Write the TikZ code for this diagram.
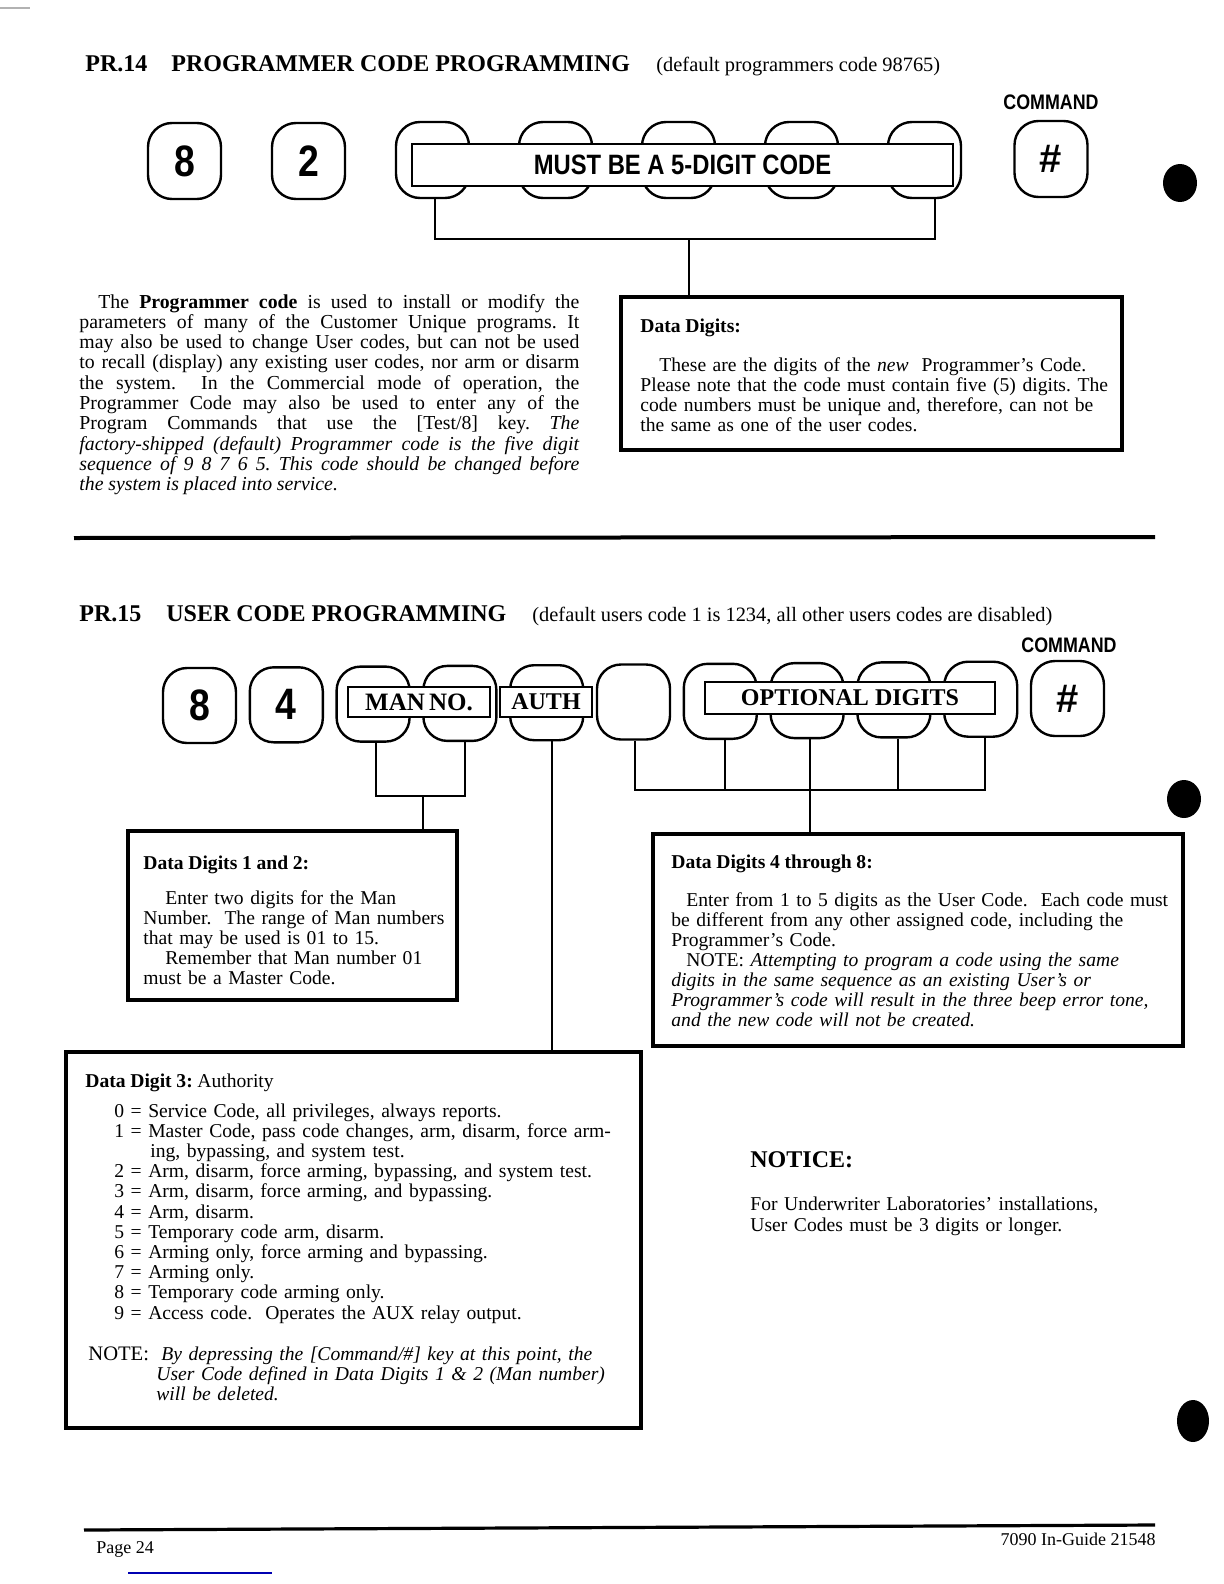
\documentclass[tikz,border=0pt]{standalone}
\usepackage{fontspec}
\setmainfont{Liberation Serif}
\newfontfamily\hv{Liberation Sans}
\newfontfamily\hvc[FakeStretch=0.85]{Liberation Sans}
\usetikzlibrary{calc}
\newcommand{\bodyfont}[2]{\fontsize{#1}{#2}\selectfont\frenchspacing\spaceskip=0.24em plus 0.6em minus 0.06em\relax}
\newcommand{\justifysetup}{\rightskip=0pt\relax\leftskip=0pt\relax\parfillskip=0pt plus 1fil\relax\spaceskip=0.24em plus 0.6em minus 0.06em\relax\tolerance=10000\relax\hyphenpenalty=10000\relax}
\begin{document}
\begin{tikzpicture}[x=0.5pt,y=-0.5pt,
  key/.style={draw, line width=1.2pt, rounded corners=12pt, minimum width=36.5pt, minimum height=38pt, inner sep=0pt, fill=white},
  keyb/.style={key, minimum height=37.5pt},
  keynum/.style={font=\hvc\bfseries\fontsize{22}{22}\selectfont},
  keyhash/.style={font=\hv\bfseries\fontsize{20}{20}\selectfont},
  lbl/.style={draw, line width=1.2pt, fill=white, inner sep=0pt},
  databox/.style={draw, line width=1.9pt, inner sep=0pt},
  conn/.style={line width=1pt},
  ttl/.style={inner sep=0pt, anchor=base west, font=\fontsize{12}{12}\selectfont\bfseries},
  sub/.style={inner sep=0pt, anchor=base west, font=\fontsize{10.2}{10.2}\selectfont},
  cmd/.style={inner sep=0pt, anchor=base, font=\hvc\bfseries\fontsize{10.5}{10.5}\selectfont},
  txtp/.style={inner sep=0pt, anchor=base west, font=\bodyfont{9.8}{10}},
  txtq/.style={inner sep=0pt, anchor=base west, font=\bodyfont{9.9}{10.15}},
  txt3/.style={inner sep=0pt, anchor=base west, font=\bodyfont{9.8}{10.1}},
  foot/.style={inner sep=0pt, anchor=base west, font=\fontsize{9}{9}\selectfont}
]
\fill[white] (0,0) rectangle (1224,1584);
\useasboundingbox (0,0) rectangle (1224,1584);

% scan marks
\draw[gray!60, line width=0.6pt] (0,8) -- (30,8);
\draw[blue!70!black, line width=1pt] (128,1573) -- (272,1573);
\fill (1180,183) ellipse [x radius=8.5pt, y radius=9.5pt];
\fill (1184,799) ellipse [x radius=8.5pt, y radius=9.5pt];
\fill (1193,1421) ellipse [x radius=8pt, y radius=10.5pt];

% ---------------- PR.14 ----------------
\node[ttl] (t14a) at (85,72) {PR.14};
\node[ttl] (t14b) at (171,72) {PROGRAMMER CODE PROGRAMMING};
\node[sub] (t14c) at (656,72) {(default programmers code 98765)};
\node[cmd] (c1) at (1051,110) {COMMAND};

\node[key, keynum] (a8) at (184.5,161) {8};
\node[key, keynum] (a2) at (308.5,161) {2};
\node[key] (d1) at (432.5,160) {};
\node[key] (d2) at (555.5,160) {};
\node[key] (d3) at (678.5,160) {};
\node[key] (d4) at (801.5,160) {};
\node[key] (d5) at (924.5,160) {};
\node[key, keyhash] (aH) at (1051,159) {\#};
\node[lbl, minimum width=270.5pt, minimum height=21pt, font=\hvc\bfseries\fontsize{14}{14}\selectfont] (must) at (682.5,165) {MUST BE A 5-DIGIT CODE};

\node[databox, minimum width=250.5pt, minimum height=76.5pt] (dd) at (871.5,373.5) {};
\coordinate (j1) at (689,239);
\coordinate (d1b) at ($(d1.south)+(2.5,0)$);
\coordinate (d5b) at ($(d5.south)+(10.5,0)$);
\draw[conn] (d1b) |- (d5b |- j1) -- (d5b);
\draw[conn] (j1) -- (j1 |- dd.north);

\node[txtp] (ddh) at (640,332) {\textbf{Data Digits:}};
\node[txtp, text width=262pt] (ddt) at (640,371) {\hspace*{9.5pt}These are the digits of the \textit{new}\ \ Programmer's Code.\\
Please note that the code must contain five (5) digits. The\\
code numbers must be unique and, therefore, can not be\\
the same as one of the user codes.};

\node[txtq, text width=250pt] (para) at (79,308) {\justifysetup\hspace*{9.5pt}The \textbf{Programmer code} is used to install or modify the\linebreak
parameters of many of the Customer Unique programs. It\linebreak
may also be used to change User codes, but can not be used\linebreak
to recall (display) any existing user codes, nor arm or disarm\linebreak
the system.\ \ In the Commercial mode of operation, the\linebreak
Programmer Code may also be used to enter any of the\linebreak
Program Commands that use the [Test/8] key. \textit{The}\linebreak
\textit{factory-shipped (default) Programmer code is the five digit}\linebreak
\textit{sequence of 9 8 7 6 5. This code should be changed before}\linebreak
\textit{the system is placed into service.}\par};

\draw[line width=2pt] (74,538) -- (1155,537);

% ---------------- PR.15 ----------------
\node[ttl] (t15a) at (79,621) {PR.15};
\node[ttl] (t15b) at (166,621) {USER CODE PROGRAMMING};
\node[sub] (t15c) at (532,621) {(default users code 1 is 1234, all other users codes are disabled)};
\node[cmd] (c2) at (1069,652) {COMMAND};

\node[keyb, keynum] (b8) at (199.5,705.5) {8};
\node[keyb, keynum] (b4) at (286.3,704.8) {4};
\node[keyb] (m1) at (373.1,704.1) {};
\node[keyb] (m2) at (459.9,703.4) {};
\node[keyb] (au) at (546.7,702.7) {};
\node[keyb] (bk) at (633.5,702.0) {};
\node[keyb] (o1) at (720.3,701.3) {};
\node[keyb] (o2) at (807.1,700.6) {};
\node[keyb] (o3) at (893.9,699.9) {};
\node[keyb] (o4) at (980.7,699.2) {};
\node[keyb, keyhash] (bH) at (1067.5,698.5) {\#};

\node[lbl, minimum width=71pt, minimum height=15pt, font=\fontsize{12.5}{12.5}\selectfont\bfseries] (man) at (419,702) {MAN\,NO.};
\node[lbl, minimum width=46pt, minimum height=15pt, font=\fontsize{12}{12}\selectfont\bfseries] (auth) at (546,702) {AUTH};
\node[lbl, minimum width=145pt, minimum height=16pt, font=\fontsize{12}{12}\selectfont\bfseries] (opt) at (850,698) {OPTIONAL DIGITS};

\node[databox, minimum width=164.5pt, minimum height=84.5pt] (dd12) at (292.5,915.5) {};
\node[databox, minimum width=265pt, minimum height=106pt] (dd48) at (918,940) {};
\node[databox, minimum width=287.5pt, minimum height=188pt] (dd3) at (353.5,1240) {};

% connectors
\coordinate (j2) at (423,796);
\coordinate (m1b) at ($(m1.south)+(3,0)$);
\coordinate (m2b) at ($(m2.south)+(5,0)$);
\draw[conn] (m1b) |- (m2b |- j2) -- (m2b);
\draw[conn] (j2) -- (j2 |- dd12.north);

\coordinate (aub) at ($(au.south)+(5,0)$);
\draw[conn] (aub) -- (aub |- dd3.north);

\coordinate (j3) at (810,790);
\coordinate (bkb) at ($(bk.south)+(1.5,0)$);
\coordinate (o1b) at ($(o1.south)+(4.7,0)$);
\coordinate (o2b) at ($(o2.south)+(3,0)$);
\coordinate (o3b) at ($(o3.south)+(4,0)$);
\coordinate (o4b) at ($(o4.south)+(4.3,0)$);
\draw[conn] (bkb) |- (o4b |- j3) -- (o4b);
\draw[conn] (o1b) -- (o1b |- j3);
\draw[conn] (o3b) -- (o3b |- j3);
\draw[conn] (o2b) -- (o2b |- dd48.north);

% texts in boxes
\node[txtp] (d12h) at (143,869) {\textbf{Data Digits 1 and 2:}};
\node[txtp, text width=170pt] (d12t) at (143,904) {\hspace*{11pt}Enter two digits for the Man\\
Number.\ \ The range of Man numbers\\
that may be used is 01 to 15.\\
\hspace*{11pt}Remember that Man number 01\\
must be a Master Code.};

\node[txtp] (d48h) at (671,868) {\textbf{Data Digits 4 through 8:}};
\node[txtp, text width=262pt] (d48t) at (671,906) {\hspace*{7.5pt}Enter from 1 to 5 digits as the User Code.\ \ Each code must\\
be different from any other assigned code, including the\\
Programmer's Code.\\
\hspace*{7.5pt}NOTE: \textit{Attempting to program a code using the same}\\
\textit{digits in the same sequence as an existing User's or}\\
\textit{Programmer's code will result in the three beep error tone,}\\
\textit{and the new code will not be created.}};

\node[txt3] (d3h) at (85,1087) {\textbf{Data Digit 3:} Authority};
\node[txt3, text width=275pt] (d3t) at (114,1117) {0 = Service Code, all privileges, always reports.\\
1 = Master Code, pass code changes, arm, disarm, force arm-\\
\hspace*{18pt}ing, bypassing, and system test.\\
2 = Arm, disarm, force arming, bypassing, and system test.\\
3 = Arm, disarm, force arming, and bypassing.\\
4 = Arm, disarm.\\
5 = Temporary code arm, disarm.\\
6 = Arming only, force arming and bypassing.\\
7 = Arming only.\\
8 = Temporary code arming only.\\
9 = Access code.\ \ Operates the AUX relay output.};
\node[txt3, font=\bodyfont{10.3}{10.1}] (d3n) at (88,1360) {NOTE:};
\node[txt3, text width=250pt] (d3nt) at (156,1360) {{\itshape\hspace*{2.5pt}By depressing the [Command/\#] key at this point, the\\
User Code defined in Data Digits 1 \& 2 (Man number)\\
will be deleted.}};

\node[ttl] (nt) at (750,1167) {NOTICE:};
\node[inner sep=0pt, anchor=base west, font=\bodyfont{9.8}{10.5}, text width=210pt] (ntt) at (750,1210) {For Underwriter Laboratories' installations,\\
User Codes must be 3 digits or longer.};

% footer
\draw[line width=1.6pt] (84,1530) -- (1155,1525);
\node[foot] (pg) at (96,1553) {Page 24};
\node[foot, anchor=base east] (doc) at (1156,1545) {7090 In-Guide 21548};
\end{tikzpicture}
\end{document}
